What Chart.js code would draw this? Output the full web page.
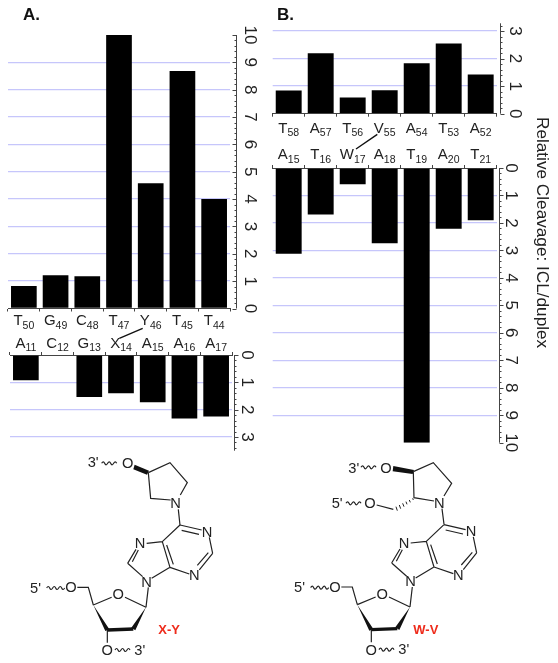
<!DOCTYPE html>
<html>
<head>
<meta charset="utf-8">
<style>
    html, body { margin: 0; padding: 0; background: #fff; }
    #page { position: relative; width: 558px; height: 663px; overflow: hidden; font-family: "Liberation Sans", Arial, sans-serif; }
    canvas, svg { position: absolute; }
    svg { left: 0; top: 0; pointer-events: none; }
    svg text { font-family: "Liberation Sans", Arial, sans-serif; }
    .bond { stroke: #222; stroke-width: 3.6; fill: none; }
    .atom { font-size: 44px; text-anchor: middle; fill: #222; }
    .tag { font-size: 39px; font-weight: bold; fill: #ee2c1c; }
</style>
<script src="https://cdn.jsdelivr.net/npm/chart.js@4"></script>
</head>
<body>
<div id="page">
    <canvas id="aTop" width="265" height="315" style="left:0;top:25px"></canvas>
    <canvas id="aBottom" width="265" height="130" style="left:0;top:330px"></canvas>
    <canvas id="bTop" width="265" height="125" style="left:265px;top:15px"></canvas>
    <canvas id="bBottom" width="265" height="320" style="left:265px;top:145px"></canvas>

    <svg width="558" height="663" viewBox="0 0 558 663">
        <defs>
            <!-- purine plus sugar, shared by both structures -->
            <g id="nucleoside">
                <path class="bond" d="M540 225L605 240M545 241L597 253M540 225L487 275M487 275L510 352M500 285L520 343M510 352L568 372M638 310L598 360M625 308L592 346M628 262L638 310M487 275L440 280M408 298L383 340M415 300L397 335M383 340L428 380M455 385L510 352M445 412L438 472"/>
                <text class="atom" x="621" y="260">N</text>
                <text class="atom" x="583" y="390">N</text>
                <text class="atom" x="420" y="295">N</text>
                <text class="atom" x="440" y="410">N</text>
                <path class="bond" d="M438 472L375 442M335 442L280 465M280 465L265 412L232 412M322 540L322 578"/>
                <path d="M280 465L328 538L316 543Z M438 472L406 541L394 533Z" fill="#111"/>
                <path d="M322 540L400 537" stroke="#111" stroke-width="10" fill="none"/>
                <text class="atom" x="355" y="447">O</text>
                <text class="atom" x="213" y="427">O</text>
                <text class="atom" x="322" y="615">O</text>
                <path class="bond" d="M140 414q5 -9 9 0t9 0t9 0t9 0t9 0t9 0"/>
                <path class="bond" d="M345 600q5 -9 9 0t9 0t9 0t9 0t9 0"/>
                <text class="atom" x="90" y="428" style="text-anchor:start">5'</text>
                <text class="atom" x="403" y="614" style="text-anchor:start">3'</text>
            </g>
        </defs>

        <!-- X-Y -->
        <g transform="translate(0 450) scale(0.3333)">
            <use href="#nucleoside"/>
            <path class="bond" d="M445 68L510 38L562 98L541 135M512 150L452 145L445 68M535 178L540 225"/>
            <path d="M404 44L447 62L441 74L400 58Z" fill="#111"/>
            <path class="bond" d="M305 40q5 -9 9 0t9 0t9 0t9 0t9 0"/>
            <text class="atom" x="383" y="53">O</text>
            <text class="atom" x="527" y="175">N</text>
            <text class="atom" x="263" y="52" style="text-anchor:start">3'</text>
            <text class="tag" x="475" y="552">X-Y</text>
        </g>

        <!-- W-V -->
        <g transform="translate(260 450) scale(0.3333)">
            <use href="#nucleoside" transform="translate(12 -1)"/>
            <path class="bond" d="M460 65L520 38L575 100L552 138M522 153L462 143L460 65M546 176L552 222"/>
            <path d="M400 48L462 60L458 72L398 64Z" fill="#111"/>
            <path class="bond" d="M303 52q5 -9 9 0t9 0t9 0t9 0t9 0M258 160q5 -9 9 0t9 0t9 0t9 0t9 0M350 165L400 178"/>
            <path d="M458 145l2 5M448 150l3 7M438 155l3 8M428 160l4 10M418 165l4 11M408 170l4 12" stroke="#222" stroke-width="3" fill="none"/>
            <text class="atom" x="378" y="68">O</text>
            <text class="atom" x="330" y="175">O</text>
            <text class="atom" x="538" y="173">N</text>
            <text class="atom" x="265" y="68" style="text-anchor:start">3'</text>
            <text class="atom" x="215" y="175" style="text-anchor:start">5'</text>
            <text class="tag" x="460" y="553">W-V</text>
        </g>

        <!-- strand crossover marks -->
        <path d="M119.3 338.3L142.7 328.3M356 149L377.3 134.3" stroke="#111" stroke-width="1.4"/>

        <text x="23" y="20" font-size="17" font-weight="bold" fill="#111">A.</text>
        <text x="277" y="20" font-size="17" font-weight="bold" fill="#111">B.</text>
        <text transform="translate(537 117) rotate(90)" font-size="17.2" fill="#222">Relative Cleavage: ICL/duplex</text>
    </svg>
</div>

<script>
// Sequence labels, letter then position
const aTopCats = ['T50', 'G49', 'C48', 'T47', 'Y46', 'T45', 'T44'];
const aBottomCats = ['A11', 'C12', 'G13', 'X14', 'A15', 'A16', 'A17'];
const bTopCats = ['T58', 'A57', 'T56', 'V55', 'A54', 'T53', 'A52'];
const bBottomCats = ['A15', 'T16', 'W17', 'A18', 'T19', 'A20', 'T21'];

// Relative cleavage
const aTopValues = [0.82, 1.22, 1.18, 10, 4.58, 8.68, 4.0];
const aBottomValues = [0.92, 0, 1.54, 1.40, 1.73, 2.32, 2.25];
const bTopValues = [0.84, 2.19, 0.59, 0.85, 1.83, 2.55, 1.42];
const bBottomValues = [3.12, 1.69, 0.59, 2.74, 10, 2.21, 1.90];

const GRID_BLUE = '#c6c6fb';
const AXIS_GREY = '#444';

// Draws the sequence labels with real subscripts
const seqLabels = {
    id: 'seqLabels',
    afterDraw(chart, args, opts) {
        const { ctx, scales: { x } } = chart;
        ctx.save();
        ctx.fillStyle = '#222';
        ctx.textBaseline = 'alphabetic';
        ctx.textAlign = 'left';
        x.getLabels().forEach((label, i) => {
            const letter = label[0], pos = label.slice(1);
            ctx.font = '15px "Liberation Sans"';
            const w1 = ctx.measureText(letter).width;
            ctx.font = '10.5px "Liberation Sans"';
            const w2 = ctx.measureText(pos).width;
            const left = x.getPixelForTick(i) - (w1 + w2) / 2;
            ctx.font = '15px "Liberation Sans"';
            ctx.fillText(letter, left, opts.baseline);
            ctx.font = '10.5px "Liberation Sans"';
            ctx.fillText(pos, left + w1, opts.baseline + 3.5);
        });
        ctx.restore();
    }
};

// Value axis stands off from the plot and has minor ticks, which Chart.js has no option for
const sideAxis = {
    id: 'sideAxis',
    afterDraw(chart, args, opts) {
        const { ctx, scales: { y } } = chart;
        ctx.save();
        ctx.strokeStyle = AXIS_GREY;
        ctx.lineWidth = 1;
        ctx.beginPath();
        ctx.moveTo(opts.x + 0.5, y.getPixelForValue(0));
        ctx.lineTo(opts.x + 0.5, y.getPixelForValue(y.max));
        for (let i = 0; i * 0.2 <= y.max + 0.001; i++) {
            const py = Math.round(y.getPixelForValue(i * 0.2)) + 0.5;
            const len = i % 5 === 0 ? 4 : 2;
            ctx.moveTo(opts.x + 0.5, py);
            ctx.lineTo(opts.x + 0.5 + opts.dir * len, py);
        }
        ctx.stroke();
        ctx.restore();
    }
};

function makePanel(id, cats, values, p) {
    const canvas = document.getElementById(id);
    const boxLeft = canvas.offsetLeft, boxTop = canvas.offsetTop;
    return new Chart(canvas, {
        type: 'bar',
        data: {
            labels: cats,
            datasets: [{
                data: values,
                backgroundColor: '#000',
                barPercentage: 0.81,
                categoryPercentage: 1
            }]
        },
        plugins: [seqLabels, sideAxis],
        options: {
            responsive: false,
            animation: false,
            layout: {
                padding: {
                    left: p.x0 - boxLeft,
                    right: 0,
                    top: p.y0 - boxTop,
                    bottom: boxTop + canvas.height - p.y1
                }
            },
            plugins: {
                legend: { display: false },
                tooltip: { enabled: false },
                title: { display: false },
                seqLabels: { baseline: p.baseline - boxTop },
                sideAxis: { x: p.axisX - boxLeft, dir: p.dir }
            },
            scales: {
                x: {
                    position: p.reverse ? 'top' : 'bottom',
                    border: { color: AXIS_GREY },
                    grid: { drawOnChartArea: false, color: AXIS_GREY, tickLength: 3 },
                    ticks: { display: false },
                    afterFit(scale) {
                        scale.height = 0;
                        scale.paddingLeft = scale.paddingRight = 0;
                    }
                },
                y: {
                    position: 'right',
                    min: 0,
                    max: p.max,
                    reverse: !!p.reverse,
                    border: { display: false },
                    grid: {
                        drawTicks: false,
                        lineWidth: 1.3,
                        color: c => (c.tick.value === 0 || c.tick.value === 10) ? 'transparent' : GRID_BLUE
                    },
                    ticks: {
                        stepSize: 1,
                        includeBounds: false,
                        minRotation: -90,
                        maxRotation: -90,
                        crossAlign: 'center',
                        padding: p.labelPad,
                        color: '#222',
                        font: { family: '"Liberation Sans"', size: 17 }
                    },
                    afterFit(scale) {
                        // the labels are clipped to the scale box, so it has to reach the canvas edge
                        scale.width = boxLeft + canvas.width - p.x1;
                        scale.paddingTop = scale.paddingBottom = 0;
                    }
                }
            }
        }
    });
}

makePanel('aTop', aTopCats, aTopValues, { x0: 8, x1: 230, y0: 35, y1: 308.5, max: 10, baseline: 325, axisX: 236, dir: -1, labelPad: 10.5 });
makePanel('aBottom', aBottomCats, aBottomValues, { x0: 10, x1: 232, y0: 355, y1: 450.7, max: 3.5, reverse: true, baseline: 347.7, axisX: 234, dir: 1, labelPad: 10 });
makePanel('bTop', bTopCats, bTopValues, { x0: 272.7, x1: 496.7, y0: 23.3, y1: 113.7, max: 3.28, baseline: 132.7, axisX: 500, dir: 1, labelPad: 13.6 });
makePanel('bBottom', bBottomCats, bBottomValues, { x0: 272.7, x1: 496.7, y0: 168, y1: 442.7, max: 10, reverse: true, baseline: 159, axisX: 499, dir: 1, labelPad: 4.8 });
</script>
</body>
</html>
